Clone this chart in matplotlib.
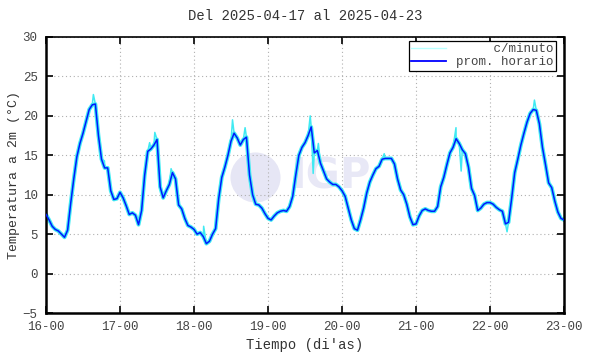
import numpy as np
import matplotlib
matplotlib.use("Agg")
import matplotlib.pyplot as plt
from matplotlib.lines import Line2D

plt.rcParams['font.family'] = ['Liberation Mono', 'DejaVu Sans Mono']

# hourly mean temperature (degC), 2025-04-16 00h .. 2025-04-23 00h
day16 = [7.5, 6.8, 6.0, 5.6, 5.4, 5.0, 4.6, 5.5, 8.9, 12.0, 14.8, 16.5,
         17.8, 19.3, 20.8, 21.4, 21.5, 17.5, 14.5, 13.4, 13.4, 10.5, 9.4, 9.5]
day17 = [10.3, 9.6, 8.6, 7.5, 7.7, 7.4, 6.2, 8.0, 12.5, 15.5, 15.8, 16.3,
         17.0, 11.0, 9.6, 10.5, 11.3, 12.8, 12.0, 8.7, 8.2, 7.0, 6.1, 5.9]
day18 = [5.6, 5.0, 5.2, 4.7, 3.8, 4.1, 5.0, 5.7, 9.5, 12.2, 13.5, 15.0,
         16.8, 17.8, 17.2, 16.3, 17.0, 17.3, 12.5, 10.0, 8.8, 8.7, 8.3, 7.6]
day19 = [7.0, 6.8, 7.3, 7.7, 7.9, 8.0, 7.9, 8.5, 9.8, 12.5, 15.0, 16.0,
         16.6, 17.5, 18.6, 15.3, 15.6, 14.0, 13.0, 12.0, 11.6, 11.3, 11.3, 11.0]
day20 = [10.5, 9.8, 8.3, 6.8, 5.7, 5.5, 6.8, 8.3, 10.2, 11.6, 12.5, 13.3,
         13.6, 14.5, 14.6, 14.6, 14.6, 13.9, 12.0, 10.6, 10.0, 8.8, 7.2, 6.2]
day21 = [6.3, 7.3, 8.0, 8.2, 8.0, 7.9, 7.9, 8.5, 11.0, 12.2, 13.8, 15.3,
         16.0, 17.1, 16.5, 15.7, 15.2, 13.5, 10.8, 9.9, 8.0, 8.3, 8.8, 9.0]
day22 = [9.0, 8.8, 8.4, 8.1, 7.9, 6.3, 6.5, 9.5, 12.8, 14.5, 16.3, 17.8,
         19.2, 20.3, 20.8, 20.7, 19.0, 16.0, 13.8, 11.5, 10.9, 9.2, 7.8, 7.0]
day23 = [6.8]

hourly = day16 + day17 + day18 + day19 + day20 + day21 + day22 + day23
t_hourly = 16 + np.arange(len(hourly)) / 24.0

# extra extremes seen only in the per-minute series (day, value)
spike_t = [16.64, 16.79, 17.40, 17.47, 17.69, 18.13, 18.52, 18.69,
           19.57, 19.61, 19.68, 20.57, 21.54, 21.61, 22.23, 22.60]
spike_v = [22.7, 14.3, 16.6, 17.9, 13.3, 6.0, 19.5, 18.5,
           20.0, 12.7, 16.5, 15.2, 18.5, 13.0, 5.3, 22.0]

t_min = np.concatenate([t_hourly, spike_t])
v_min = np.concatenate([hourly, spike_v])
order = np.argsort(t_min)
t_min, v_min = t_min[order], v_min[order]

day_ticks = [16, 17, 18, 19, 20, 21, 22, 23]
day_labels = ['%d-00' % d for d in day_ticks]

fig = plt.figure(figsize=(5.9, 3.54), dpi=100)
ax = fig.add_axes([0.078, 0.1158, 0.878, 0.7797])

# watermark logo
ax.scatter([18.82], [12.3], s=1300, color='#e6e6f5', zorder=0, linewidths=0)
ax.text(19.3, 12.3, 'IGP', fontsize=30, fontweight='bold', family='DejaVu Sans',
        color='#e8e8f6', va='center', ha='left', zorder=0)

ax.plot(t_hourly, hourly, color='#40eaf2', lw=2.8, zorder=2)
ax.plot(t_min, v_min, color='#40eaf2', lw=1.1, zorder=2)
ax.plot(t_hourly, hourly, color='#0018ff', lw=1.1, zorder=3)

ax.set_xlim(16, 23)
ax.set_ylim(-5, 30)
ax.set_xticks(day_ticks)
ax.set_xticklabels(day_labels)
ax.set_yticks(range(-5, 31, 5))
ax.tick_params(direction='in', length=5, width=1.2, top=True, right=True,
               labelsize=9, labelcolor='#444444', pad=6)
ax.grid(True, color='#b0b0b0', linestyle=(0, (1, 2.5)), lw=0.8)
for s in ax.spines.values():
    s.set_linewidth(1.8)
ax.spines['top'].set_linewidth(1.2)

ax.set_title('Del 2025-04-17 al 2025-04-23', fontsize=10, color='#333333', pad=12)
ax.set_xlabel('Tiempo (di\'as)', fontsize=10, color='#333333', labelpad=3)
ax.set_ylabel('Temperatura a 2m (°C)', fontsize=9.5, color='#333333', labelpad=2)

handles = [Line2D([], [], color='#b8ffff', lw=1.0),
           Line2D([], [], color='#0000ff', lw=1.3)]
leg = ax.legend(handles, ['     c/minuto', 'prom. horario'], loc='upper right',
                bbox_to_anchor=(0.9846, 0.9855), borderaxespad=0, fontsize=9,
                fancybox=False, framealpha=1, edgecolor='black',
                handlelength=2.8, borderpad=0.2, labelspacing=0.05,
                handletextpad=0.8)
leg.get_frame().set_linewidth(0.9)
for txt in leg.get_texts():
    txt.set_color('#444444')

fig.savefig('out.png', dpi=100)
